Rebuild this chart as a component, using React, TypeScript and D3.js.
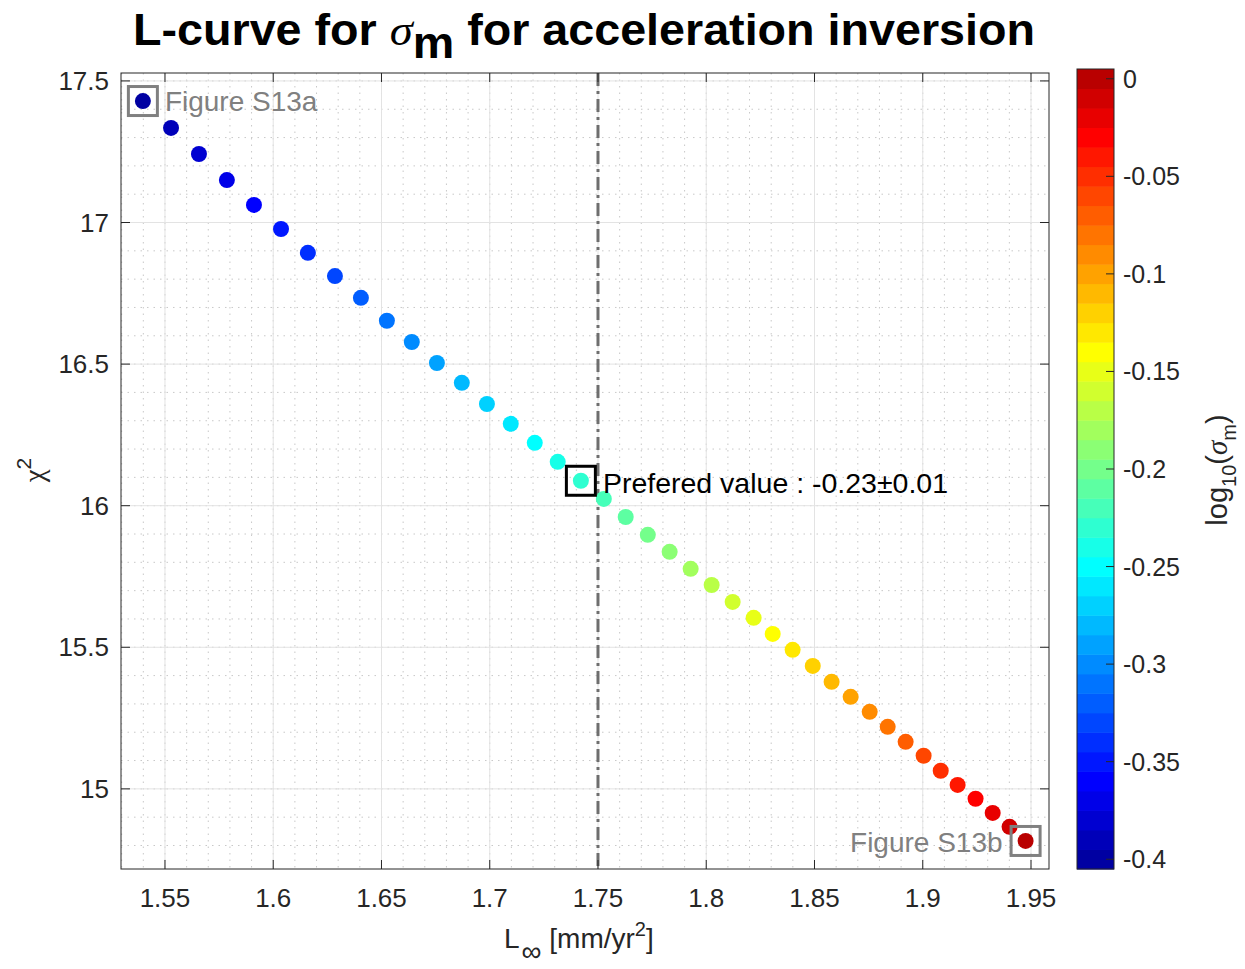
import React from "react";
import * as d3 from "d3";

// log10(sigma_m) values tested in the inversion
const logSigma = [
  -0.4, -0.39, -0.38, -0.37, -0.36, -0.35, -0.34, -0.33, -0.32, -0.31,
  -0.3, -0.29, -0.28, -0.27, -0.26, -0.25, -0.24, -0.23, -0.22, -0.21,
  -0.2, -0.19, -0.18, -0.17, -0.16, -0.15, -0.14, -0.13, -0.12, -0.11,
  -0.1, -0.09, -0.08, -0.07, -0.06, -0.05, -0.04, -0.03, -0.02, -0.01, 0,
];

// L-infinity norm of the acceleration model [mm/yr^2]
const lInf = [
  1.5398, 1.5528, 1.5657, 1.5786, 1.5911, 1.6036, 1.616, 1.6285, 1.6405, 1.6525,
  1.664, 1.6756, 1.6871, 1.6987, 1.7097, 1.7208, 1.7314, 1.7421, 1.7527, 1.7628,
  1.773, 1.7831, 1.7928, 1.8025, 1.8122, 1.8219, 1.8307, 1.8399, 1.8492, 1.8579,
  1.8667, 1.8755, 1.8838, 1.8921, 1.9004, 1.9083, 1.9161, 1.9244, 1.9323, 1.9401,
  1.9475,
];

// misfit chi^2
const chi2 = [
  17.429, 17.334, 17.242, 17.15, 17.062, 16.977, 16.893, 16.811, 16.734, 16.653,
  16.578, 16.504, 16.434, 16.359, 16.289, 16.222, 16.155, 16.088, 16.024, 15.96,
  15.897, 15.837, 15.777, 15.72, 15.66, 15.604, 15.547, 15.491, 15.434, 15.378,
  15.325, 15.272, 15.219, 15.166, 15.117, 15.064, 15.014, 14.965, 14.915, 14.866,
  14.816,
];

const xTicks = [1.55, 1.6, 1.65, 1.7, 1.75, 1.8, 1.85, 1.9, 1.95];
const yTicks = [15, 15.5, 16, 16.5, 17, 17.5];
const cTicks = [0, -0.05, -0.1, -0.15, -0.2, -0.25, -0.3, -0.35, -0.4];
const preferredIndex = 17;
const preferredLabel = "Prefered value : -0.23\u00B10.01";
const chosenLInf = 1.75;

// MATLAB-style jet colormap with m entries
function jet(m: number): string[] {
  const n = Math.ceil(m / 4);
  const u: number[] = [];
  for (let k = 1; k <= n; k++) u.push(k / n);
  for (let k = 1; k <= n - 1; k++) u.push(1);
  for (let k = n; k >= 1; k--) u.push(k / n);
  const off = Math.ceil(n / 2) - (m % 4 === 1 ? 1 : 0);
  const g = u.map((_, i) => off + i + 1);
  const r = g.map((v) => v + n).filter((v) => v <= m);
  const gg = g.filter((v) => v <= m);
  const b = g.map((v) => v - n).filter((v) => v >= 1);
  const J = Array.from({ length: m }, () => [0, 0, 0]);
  r.forEach((row, i) => (J[row - 1][0] = u[i]));
  gg.forEach((row, i) => (J[row - 1][1] = u[i]));
  b.forEach((row, i) => (J[row - 1][2] = u[u.length - b.length + i]));
  return J.map(([rr, gg2, bb]) => d3.rgb(rr * 255, gg2 * 255, bb * 255).formatHex());
}

const FONT = "'Liberation Sans', Arial, Helvetica, sans-serif";
const SERIF = "'Liberation Serif', 'DejaVu Serif', serif";
const AX = "#262626";

export default function App() {
  const W = 1245;
  const H = 969;
  const L = 121, R = 1049, T = 73, B = 869;
  const x = d3.scaleLinear().domain([1.52969, 1.95831]).range([L, R]);
  const y = d3.scaleLinear().domain([14.717, 17.528]).range([B, T]);
  const cbL = 1077, cbR = 1114, cbT = 69, cbB = 869;
  const c = d3.scaleLinear().domain([-0.405, 0.005]).range([cbB, cbT]);
  const cmap = jet(logSigma.length);
  const colorOf = d3.scaleQuantize<string>().domain([-0.405, 0.005]).range(cmap);

  const xMinor = d3.range(1.53, 1.96, 0.01).filter((v) => v > x.domain()[0] && v < x.domain()[1]);
  const yMinor = d3.range(14.8, 17.55, 0.1).filter((v) => v > y.domain()[0] && v < y.domain()[1]);

  const tick = 9;
  const last = logSigma.length - 1;

  return (
    <svg width={W} height={H} style={{ display: "block", position: "absolute", left: 0, top: 0 }} fontFamily={FONT}>
      <rect width={W} height={H} fill="#fff" />

      {/* title */}
      <text x={133} y={45} fontSize={44} fontWeight="bold" fill="#000" textLength={902} lengthAdjust="spacingAndGlyphs">
        L-curve for{" "}
        <tspan fontFamily={SERIF} fontStyle="italic" fontWeight="normal">
          σ
        </tspan>
        <tspan dy={13}>m</tspan>
        <tspan dy={-13}> for acceleration inversion</tspan>
      </text>

      {/* plot area */}
      <rect x={L} y={T} width={R - L} height={B - T} fill="#fff" />

      {/* minor grid */}
      <g stroke="#c8c8c8" strokeWidth={1} strokeDasharray="1.5,5">
        {xMinor.map((v, i) => (
          <line key={"xm" + i} x1={x(v)} x2={x(v)} y1={T} y2={B} />
        ))}
        {yMinor.map((v, i) => (
          <line key={"ym" + i} x1={L} x2={R} y1={y(v)} y2={y(v)} />
        ))}
      </g>
      {/* major grid */}
      <g stroke="#e3e3e3" strokeWidth={1}>
        {xTicks.map((v) => (
          <line key={"xg" + v} x1={x(v)} x2={x(v)} y1={T} y2={B} />
        ))}
        {yTicks.map((v) => (
          <line key={"yg" + v} x1={L} x2={R} y1={y(v)} y2={y(v)} />
        ))}
      </g>

      {/* chosen value line */}
      <line x1={x(chosenLInf)} x2={x(chosenLInf)} y1={T} y2={B} stroke="#6e6e6e" strokeWidth={3} strokeDasharray="13,5,3,5" />

      {/* points */}
      {lInf.map((v, i) => (
        <circle key={"p" + i} cx={x(v)} cy={y(chi2[i])} r={8} fill={colorOf(logSigma[i])} />
      ))}

      {/* highlight boxes */}
      <rect x={x(lInf[0]) - 14.5} y={y(chi2[0]) - 14.5} width={29} height={29} fill="none" stroke="#808080" strokeWidth={3} />
      <rect x={x(lInf[last]) - 14.5} y={y(chi2[last]) - 14.5} width={29} height={29} fill="none" stroke="#808080" strokeWidth={3} />
      <rect
        x={x(lInf[preferredIndex]) - 14.5}
        y={y(chi2[preferredIndex]) - 14.5}
        width={29}
        height={29}
        fill="none"
        stroke="#000"
        strokeWidth={3}
      />

      {/* annotations */}
      <text x={x(lInf[0]) + 22} y={y(chi2[0]) + 10} fontSize={28} fill="#808080">
        Figure S13a
      </text>
      <text x={x(lInf[last]) - 23} y={y(chi2[last]) + 11} fontSize={28} fill="#808080" textAnchor="end">
        Figure S13b
      </text>
      <text x={x(lInf[preferredIndex]) + 22} y={y(chi2[preferredIndex]) + 12} fontSize={28.5} fill="#000">
        {preferredLabel}
      </text>

      {/* axes box and ticks */}
      <rect x={L} y={T} width={R - L} height={B - T} fill="none" stroke={AX} strokeWidth={1} />
      <g stroke={AX} strokeWidth={1}>
        {xTicks.map((v) => (
          <g key={"xt" + v}>
            <line x1={x(v)} x2={x(v)} y1={B} y2={B - tick} />
            <line x1={x(v)} x2={x(v)} y1={T} y2={T + tick} />
          </g>
        ))}
        {yTicks.map((v) => (
          <g key={"yt" + v}>
            <line x1={L} x2={L + tick} y1={y(v)} y2={y(v)} />
            <line x1={R} x2={R - tick} y1={y(v)} y2={y(v)} />
          </g>
        ))}
      </g>
      <g fontSize={26} fill={AX}>
        {xTicks.map((v) => (
          <text key={"xl" + v} x={x(v)} y={B + 38} textAnchor="middle">
            {d3.format("")(v)}
          </text>
        ))}
        {yTicks.map((v) => (
          <text key={"yl" + v} x={L - 12} y={y(v) + 9} textAnchor="end">
            {d3.format("")(v)}
          </text>
        ))}
      </g>

      {/* axis labels */}
      <text x={504} y={948} fontSize={28} fill={AX}>
        L
        <tspan fontSize={28} dx={2} dy={13}>∞</tspan>
        <tspan dy={-13}> [mm/yr</tspan>
        <tspan fontSize={20} dy={-12}>2</tspan>
        <tspan dy={12}>]</tspan>
      </text>
      <text transform="translate(44,470) rotate(-90)" fontSize={29} fill={AX} textAnchor="middle">
        <tspan fontFamily={SERIF}>χ</tspan>
        <tspan fontSize={21} dy={-13}>2</tspan>
      </text>

      {/* colorbar */}
      {logSigma.map((v, i) => (
        <rect
          key={"cb" + i}
          x={cbL}
          y={c(v + 0.005)}
          width={cbR - cbL}
          height={c(v - 0.005) - c(v + 0.005) + 0.5}
          fill={cmap[i]}
        />
      ))}
      <rect x={cbL} y={cbT} width={cbR - cbL} height={cbB - cbT} fill="none" stroke={AX} strokeWidth={1} />
      <g stroke={AX} strokeWidth={1}>
        {cTicks.map((v) => (
          <line key={"ct" + v} x1={cbR} x2={cbR - 8} y1={c(v)} y2={c(v)} />
        ))}
      </g>
      <g fontSize={25} fill={AX}>
        {cTicks.map((v) => (
          <text key={"cl" + v} x={cbR + 9} y={c(v) + 9}>
            {d3.format("")(v).replace("−", "-")}
          </text>
        ))}
      </g>
      <text transform="translate(1227,470) rotate(-90)" fontSize={29} fill={AX} textAnchor="middle">
        log
        <tspan fontSize={20} dy={9}>10</tspan>
        <tspan dy={-9}>(</tspan>
        <tspan fontFamily={SERIF} fontStyle="italic">σ</tspan>
        <tspan fontSize={20} dy={9}>m</tspan>
        <tspan dy={-9}>)</tspan>
      </text>
    </svg>
  );
}
